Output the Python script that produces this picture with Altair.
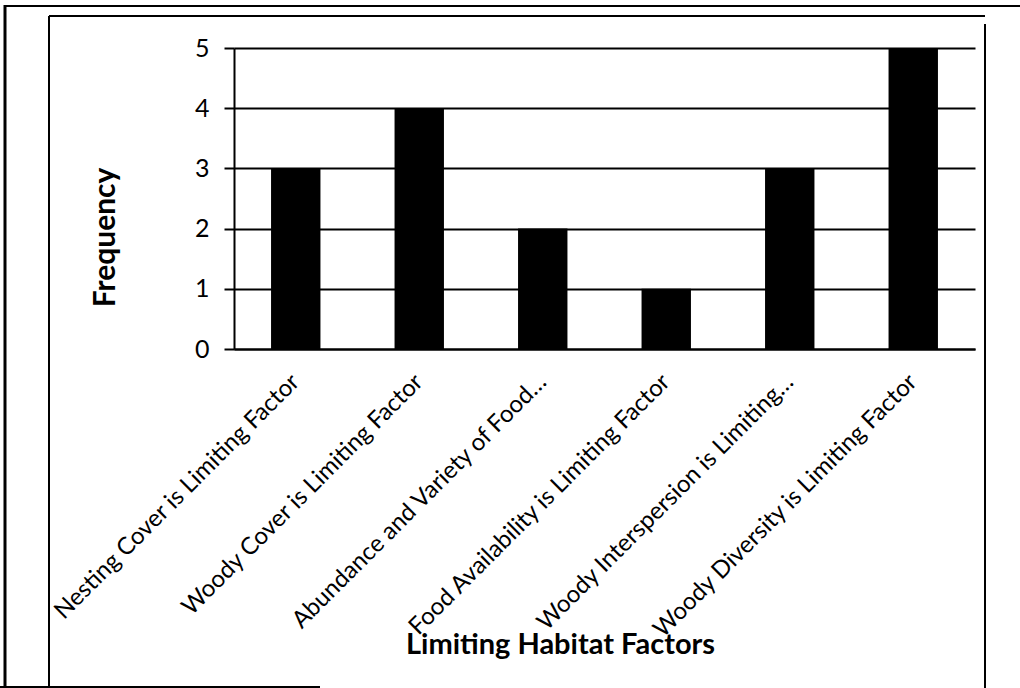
import altair as alt
import pandas as pd

factors = [
    "Nesting Cover is Limiting Factor",
    "Woody Cover is Limiting Factor",
    "Abundance and Variety of Food…",
    "Food Availability is Limiting Factor",
    "Woody Interspersion is Limiting…",
    "Woody Diversity is Limiting Factor",
]
frequency = [3, 4, 2, 1, 3, 5]
y_ticks = [0, 1, 2, 3, 4, 5]

df = pd.DataFrame({"factor": factors, "freq": frequency})

FONT = "Lato"
W, H = 741, 301
LEFT, TOP = 234, 48

bars = alt.Chart(df).mark_bar(color="black").encode(
    x=alt.X(
        "factor:N",
        sort=factors,
        scale=alt.Scale(paddingInner=0.6, paddingOuter=0.3),
        axis=alt.Axis(
            title="Limiting Habitat Factors",
            titleFont=FONT,
            titleFontSize=29,
            titleFontWeight="bold",
            titleColor="black",
            titleX=326,
            titleY=304,
            titleBaseline="alphabetic",
            labelAngle=-45,
            labelAlign="right",
            labelBaseline="middle",
            labelFont=FONT,
            labelFontSize=24,
            labelColor="black",
            labelPadding=29,
            labelLimit=0,
            ticks=False,
            domainColor="black",
            domainWidth=2,
        ),
    ),
    y=alt.Y(
        "freq:Q",
        scale=alt.Scale(domain=[0, 5], nice=False),
        axis=alt.Axis(
            title="Frequency",
            titleFont=FONT,
            titleFontSize=30,
            titleFontWeight="bold",
            titleColor="black",
            titleX=-129,
            titleY=189,
            titleAngle=-90,
            titleAlign="center",
            titleBaseline="middle",
            values=y_ticks,
            labelFont=FONT,
            labelFontSize=25,
            labelColor="black",
            labelPadding=15,
            tickColor="black",
            tickSize=10,
            tickWidth=2,
            grid=True,
            gridColor="black",
            gridWidth=2,
            gridOpacity=1,
            domainColor="black",
            domainWidth=2,
        ),
    ),
)

frame_df = pd.DataFrame({"k": [0]})
# decorative frame lines of the scanned page
def vrule(x, y1, y2, w=2):
    return alt.Chart(frame_df).mark_rule(color="black", strokeWidth=w).encode(
        x=alt.value(x - LEFT), y=alt.value(y1 - TOP), y2=alt.value(y2 - TOP)
    )

def hrule(y, x1, x2, w=2):
    return alt.Chart(frame_df).mark_rule(color="black", strokeWidth=w).encode(
        y=alt.value(y - TOP), x=alt.value(x1 - LEFT), x2=alt.value(x2 - LEFT)
    )

frame = (
    vrule(49, 16, 688)
    + hrule(16, 49, 985)
    + vrule(985, 24, 688)
    + vrule(5, 5, 688, 3)
    + hrule(6, 5, 1020)
    + hrule(687, 0, 320)
)

chart = (
    alt.layer(bars, frame)
    .properties(
        width=W,
        height=H,
        autosize=alt.AutoSizeParams(type="none"),
        padding={"left": LEFT, "top": TOP, "right": 1020 - LEFT - W, "bottom": 688 - TOP - H},
        background="white",
    )
    .configure_view(stroke=None)
)

chart.save("out.html", embed_options={"renderer": "svg", "actions": False})
